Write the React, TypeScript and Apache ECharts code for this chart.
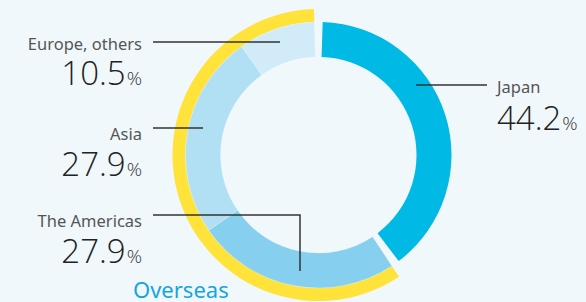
import React, { useEffect, useRef } from "react";
import * as echarts from "echarts";

const regions = ["Japan", "The Americas", "Asia", "Europe, others"];
const shares = [44.2, 27.9, 27.9, 10.5];
const colors = ["#00b9e5", "#87cfee", "#b1dff3", "#d1ecf8"];
const overseasLabel = "Overseas";

const BG = "#f0f8fc";
const FONT = "'Noto Sans', 'Open Sans', sans-serif";
const NUM_FONT = "'Open Sans', 'Noto Sans', sans-serif";

export default function App() {
  const ref = useRef<HTMLDivElement>(null);
  useEffect(() => {
    document.body.style.margin = "0";
    document.body.style.background = BG;
    const chart = echarts.init(ref.current!, null, { renderer: "svg" });
    const total = shares.reduce((a, b) => a + b, 0);
    const gapDeg = 3.6;
    const gapVal = (total * gapDeg) / (360 - 2 * gapDeg);
    const gapItem = { value: gapVal, name: "gap", itemStyle: { color: "transparent" } };
    const overseas = shares.slice(1).reduce((a, b) => a + b, 0);
    const center = [318.5, 155];
    const startAngle = 90 - gapDeg / 2;

    const mainData = [
      { value: shares[0], name: regions[0], itemStyle: { color: colors[0] } },
      gapItem,
      ...regions.slice(1).map((r, i) => ({
        value: shares[i + 1],
        name: r,
        itemStyle: { color: colors[i + 1], borderColor: "rgba(255,255,255,0.35)", borderWidth: 0.6 },
      })),
      gapItem,
    ];
    const yellowData = [
      { value: shares[0], name: "j", itemStyle: { color: "transparent" } },
      gapItem,
      { value: overseas, name: overseasLabel, itemStyle: { color: "#ffe33b" } },
      gapItem,
    ];

    // baselines of label and number
    const labelPos = [
      { x: 497, yl: 92, yn: 130, align: "left" },
      { x: 142, yl: 226, yn: 263, align: "right" },
      { x: 142, yl: 139, yn: 176, align: "right" },
      { x: 142, yl: 49, yn: 85, align: "right" },
    ];
    const lines = [
      [[416, 85], [487, 85]],
      [[153, 215], [300, 215], [300, 271]],
      [[153, 128], [203, 128]],
      [[153, 42], [280, 42]],
    ];

    const graphics: any[] = [];
    regions.forEach((r, i) => {
      const p = labelPos[i];
      graphics.push({
        type: "text",
        x: p.x,
        y: p.yl + 3,
        z: 100,
        style: {
          text: r,
          font: `16.5px ${FONT}`,
          lineHeight: 17,
          fill: "#555555",
          textAlign: p.align,
          textVerticalAlign: "bottom",
        },
      });
      graphics.push({
        type: "text",
        x: p.x,
        y: p.yn + 4,
        z: 100,
        style: {
          text: `{n|${shares[i].toFixed(1)}}{p|%}`,
          textAlign: p.align,
          textVerticalAlign: "bottom",
          rich: {
            n: { font: `300 33px ${NUM_FONT}`, lineHeight: 30, fill: "#222222", verticalAlign: "bottom" },
            p: { font: `300 19px ${NUM_FONT}`, lineHeight: 20, fill: "#333333", verticalAlign: "bottom", padding: [0, 0, 2, 1] },
          },
        },
      });
      graphics.push({
        type: "polyline",
        z: 100,
        shape: { points: lines[i] },
        style: { stroke: "#333333", lineWidth: 1.5, fill: null },
      });
    });
    graphics.push({
      type: "text",
      x: 133,
      y: 299,
      z: 100,
      style: {
        text: overseasLabel,
        font: `22px ${FONT}`,
        lineHeight: 20,
        fill: "#18a4e2",
        textVerticalAlign: "bottom",
      },
    });

    chart.setOption({
      animation: false,
      backgroundColor: BG,
      series: [
        {
          type: "pie",
          center,
          radius: [133, 146],
          startAngle,
          clockwise: true,
          silent: true,
          z: 1,
          label: { show: false },
          labelLine: { show: false },
          emphasis: { disabled: true },
          data: yellowData,
        },
        {
          type: "pie",
          center,
          radius: [98, 133],
          startAngle,
          clockwise: true,
          silent: true,
          z: 1,
          label: { show: false },
          labelLine: { show: false },
          emphasis: { disabled: true },
          data: mainData,
        },
      ],
      graphic: graphics,
    });
    return () => chart.dispose();
  }, []);
  return <div ref={ref} style={{ width: 586, height: 302, background: BG }} />;
}
